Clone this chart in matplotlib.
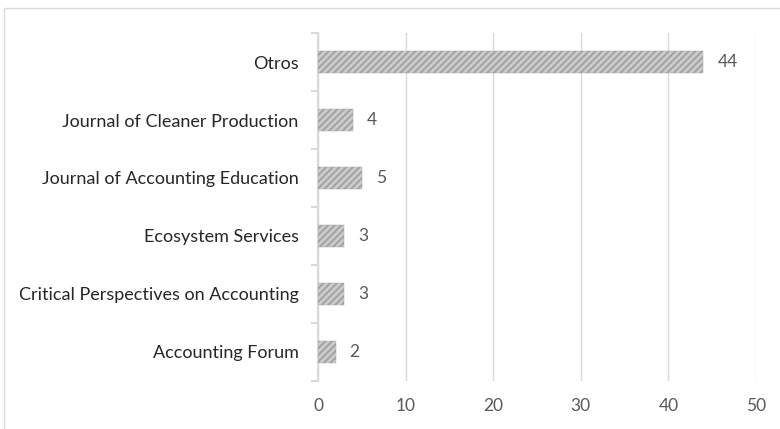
import matplotlib.pyplot as plt
import matplotlib.patches as mpatches
import numpy as np

plt.rcParams['font.family'] = ['Lato', 'DejaVu Sans']
plt.rcParams['hatch.color'] = '#6e6e6e'
plt.rcParams['hatch.linewidth'] = 1.3

# Data (top to bottom as shown)
journals = ['Otros', 'Journal of Cleaner Production', 'Journal of Accounting Education',
            'Ecosystem Services', 'Critical Perspectives on Accounting', 'Accounting Forum']
counts = [44, 4, 5, 3, 3, 2]
xticks = [0, 10, 20, 30, 40, 50]

txt = '#595959'
grid = '#d9d9d9'

fig = plt.figure(figsize=(7.8, 4.29), dpi=100)
ax = fig.add_axes([0.4077, 0.112, 0.5615, 0.811])

# outer chart border
fig.patches.append(mpatches.Rectangle((4 / 780, -0.05), 1.0, 1 - 8 / 429 + 0.05,
                                      transform=fig.transFigure, fill=False,
                                      edgecolor=grid, linewidth=1))

y = np.arange(len(journals))[::-1]
bars = ax.barh(y, counts, height=0.38, color='#cbcbcb', edgecolor='#a0a0a0',
               linewidth=0.3, hatch='/////', zorder=3)

for yi, v in zip(y, counts):
    ax.annotate(str(v), (v, yi), xytext=(10, 0), textcoords='offset points',
                va='center', ha='left', color=txt, fontsize=12.5)

ax.set_xlim(0, 50)
ax.set_ylim(-0.5, len(journals) - 0.5)
ax.set_xticks(xticks)
ax.set_yticks(y)
ax.set_yticklabels(journals)
ax.set_yticks(np.arange(-0.5, len(journals), 1.0), minor=True)

ax.grid(axis='x', color=grid, linewidth=1, zorder=0)
for s in ['top', 'right', 'bottom']:
    ax.spines[s].set_visible(False)
ax.spines['left'].set_color(grid)
ax.spines['left'].set_linewidth(1.5)

ax.tick_params(axis='x', length=0, pad=12, labelcolor=txt, labelsize=12.5)
ax.tick_params(axis='y', which='major', length=0, pad=14, labelcolor='#262626', labelsize=13)
ax.tick_params(axis='y', which='minor', length=5, color=grid, width=1.5)

fig.savefig('out.png', dpi=100)
